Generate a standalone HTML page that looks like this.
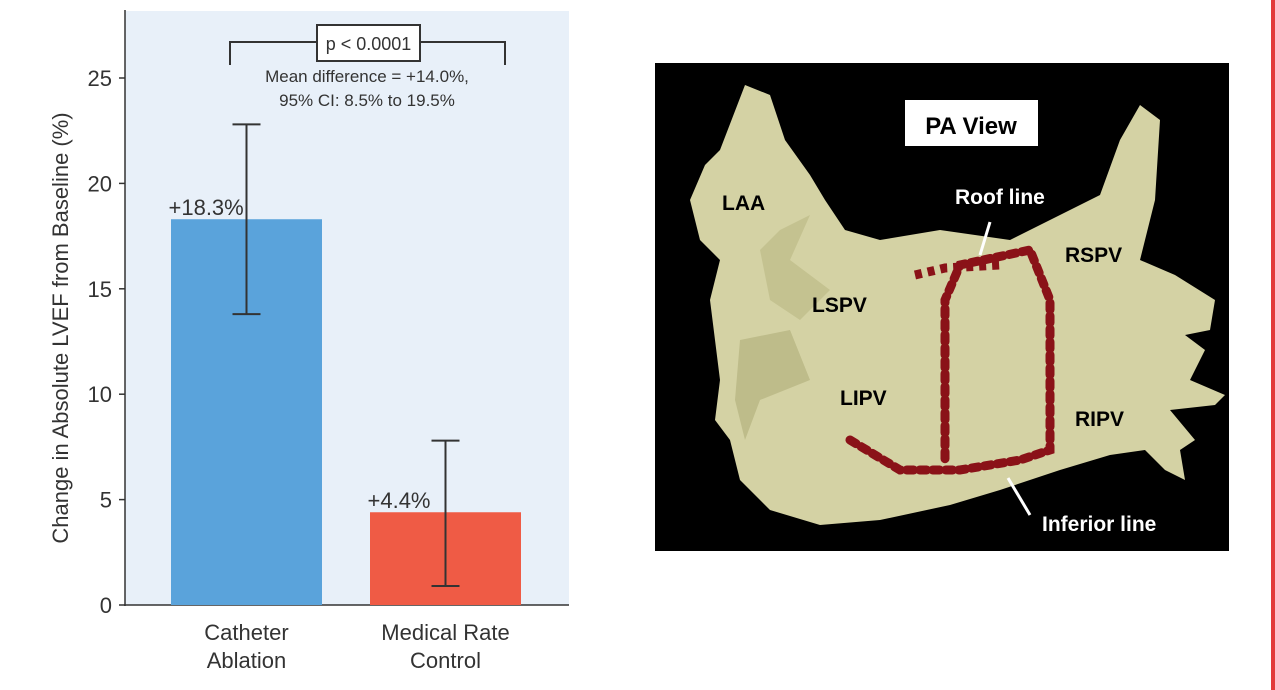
<!DOCTYPE html>
<html><head><meta charset="utf-8"><style>
body{margin:0;width:1275px;height:690px;background:#fff;overflow:hidden;font-family:"Liberation Sans",sans-serif;position:relative}
</style></head><body>
<svg width="1275" height="690" style="position:absolute;left:0;top:0">
<rect x="125" y="11" width="444" height="594" fill="#e8f0f9"/>
<g id="chart"></g>
<rect x="1271" y="0" width="4" height="690" fill="#e23a3a"/>
<g>
<rect x="655" y="63" width="574" height="488" fill="#000"/>
<path d="M705,165 L720,150 L745,85 L770,95 L785,140 L810,175 L825,200 L845,230 L880,240 L940,230 L1010,240 L1060,215 L1100,195 L1120,140 L1140,105 L1160,120 L1155,200 L1140,260 L1175,275 L1215,300 L1210,330 L1185,335 L1205,350 L1190,380 L1225,395 L1215,405 L1170,410 L1195,440 L1180,450 L1185,480 L1165,470 L1145,450 L1110,455 L1060,470 L1000,490 L950,505 L880,520 L820,525 L770,510 L740,480 L730,440 L715,420 L720,380 L710,300 L720,260 L700,240 L690,200 Z" fill="#d4d2a4"/>
<path d="M760,250 L780,230 L810,215 L790,260 L830,290 L800,320 L770,300 Z" fill="#c4c290"/>
<path d="M740,340 L790,330 L810,380 L760,400 L745,440 L735,400 Z" fill="#bebc8a"/>
<path d="M850,440 L900,470 L960,470 L1020,460 L1050,450 L1050,300 L1030,250 L960,265 L945,300 L945,460" fill="none" stroke="#8a1218" stroke-width="9" stroke-dasharray="7 6" stroke-linecap="round"/>
<path d="M915,275 L945,268 L1000,265" fill="none" stroke="#8a1218" stroke-width="9" stroke-dasharray="7 6"/>
<rect x="904" y="99" width="135" height="48" fill="#fff" stroke="#000" stroke-width="2"/>
<text x="971" y="134" text-anchor="middle" font-size="24" font-weight="bold" fill="#000">PA View</text>
<g font-size="21" font-weight="bold" fill="#000">
<text x="722" y="210">LAA</text>
<text x="955" y="204" fill="#fff">Roof line</text>
<text x="1065" y="262">RSPV</text>
<text x="812" y="312">LSPV</text>
<text x="840" y="405">LIPV</text>
<text x="1075" y="426">RIPV</text>
<text x="1042" y="531" fill="#fff">Inferior line</text>
</g>
<path d="M990,222 L980,255" stroke="#fff" stroke-width="3"/>
<path d="M1030,515 L1008,478" stroke="#fff" stroke-width="3"/>
</g>
</svg>
<script>
const categories=["Catheter Ablation","Medical Rate Control"];
const values=[18.3,4.4];
const errLow=[13.8,0.9];
const errHigh=[22.8,7.8];
const valueLabels=["+18.3%","+4.4%"];
const ticks=[0,5,10,15,20,25];
const colors=["#5aa3db","#ef5b45"];
const NS="http://www.w3.org/2000/svg";
const g=document.getElementById('chart');
const y=v=>605-v*21.08;
const xc=i=>246.5+i*199;
function mk(t,a,p){const e=document.createElementNS(NS,t);for(const k in a)e.setAttribute(k,a[k]);(p||g).appendChild(e);return e;}
let ax=mk('line',{x1:125,y1:10,x2:125,y2:606,stroke:'#333','stroke-width':1.5});


let bx=mk('line',{x1:124,y1:605,x2:569,y2:605,stroke:'#333','stroke-width':1.5});


ticks.forEach(t=>{
mk('line',{x1:119,y1:y(t),x2:125,y2:y(t),stroke:'#333','stroke-width':1.5});
let tx=mk('text',{x:112,y:y(t)+8,'text-anchor':'end','font-size':22,fill:'#333'});
tx.textContent=t;


});
let yt=mk('text',{transform:'translate(68,328) rotate(-90)','text-anchor':'middle','font-size':22,fill:'#333'});
yt.textContent='Change in Absolute LVEF from Baseline (%)';


categories.forEach((c,i)=>{
let b=mk('rect',{x:xc(i)-75.5,y:y(values[i]),width:151,height:y(0)-y(values[i]),fill:colors[i]});


mk('line',{x1:xc(i),y1:y(errLow[i]),x2:xc(i),y2:y(errHigh[i]),stroke:'#333','stroke-width':2});
mk('line',{x1:xc(i)-14,y1:y(errLow[i]),x2:xc(i)+14,y2:y(errLow[i]),stroke:'#333','stroke-width':2});
mk('line',{x1:xc(i)-14,y1:y(errHigh[i]),x2:xc(i)+14,y2:y(errHigh[i]),stroke:'#333','stroke-width':2});
let vl=mk('text',{x:xc(i)-78,y:y(values[i])-4,'font-size':22,fill:'#333'});
vl.textContent=valueLabels[i];


const parts=i?["Medical Rate","Control"]:["Catheter","Ablation"];
parts.forEach((p,j)=>{let t=mk('text',{x:xc(i),y:640+j*28,'text-anchor':'middle','font-size':22,fill:'#333'});t.textContent=p;

});
});
mk('path',{d:'M230,65 V42 H317 M420,42 H505 V65',fill:'none',stroke:'#333','stroke-width':2});
let pb=mk('rect',{x:317,y:25,width:103,height:36,fill:'#fff',stroke:'#333','stroke-width':2});


let pt=mk('text',{x:368.5,y:50,'text-anchor':'middle','font-size':18,fill:'#333'});pt.textContent='p < 0.0001';


let m1=mk('text',{x:367,y:82,'text-anchor':'middle','font-size':17,fill:'#333'});m1.textContent='Mean difference = +14.0%,';


let m2=mk('text',{x:367,y:106,'text-anchor':'middle','font-size':17,fill:'#333'});m2.textContent='95% CI: 8.5% to 19.5%';


</script>
</body></html>
